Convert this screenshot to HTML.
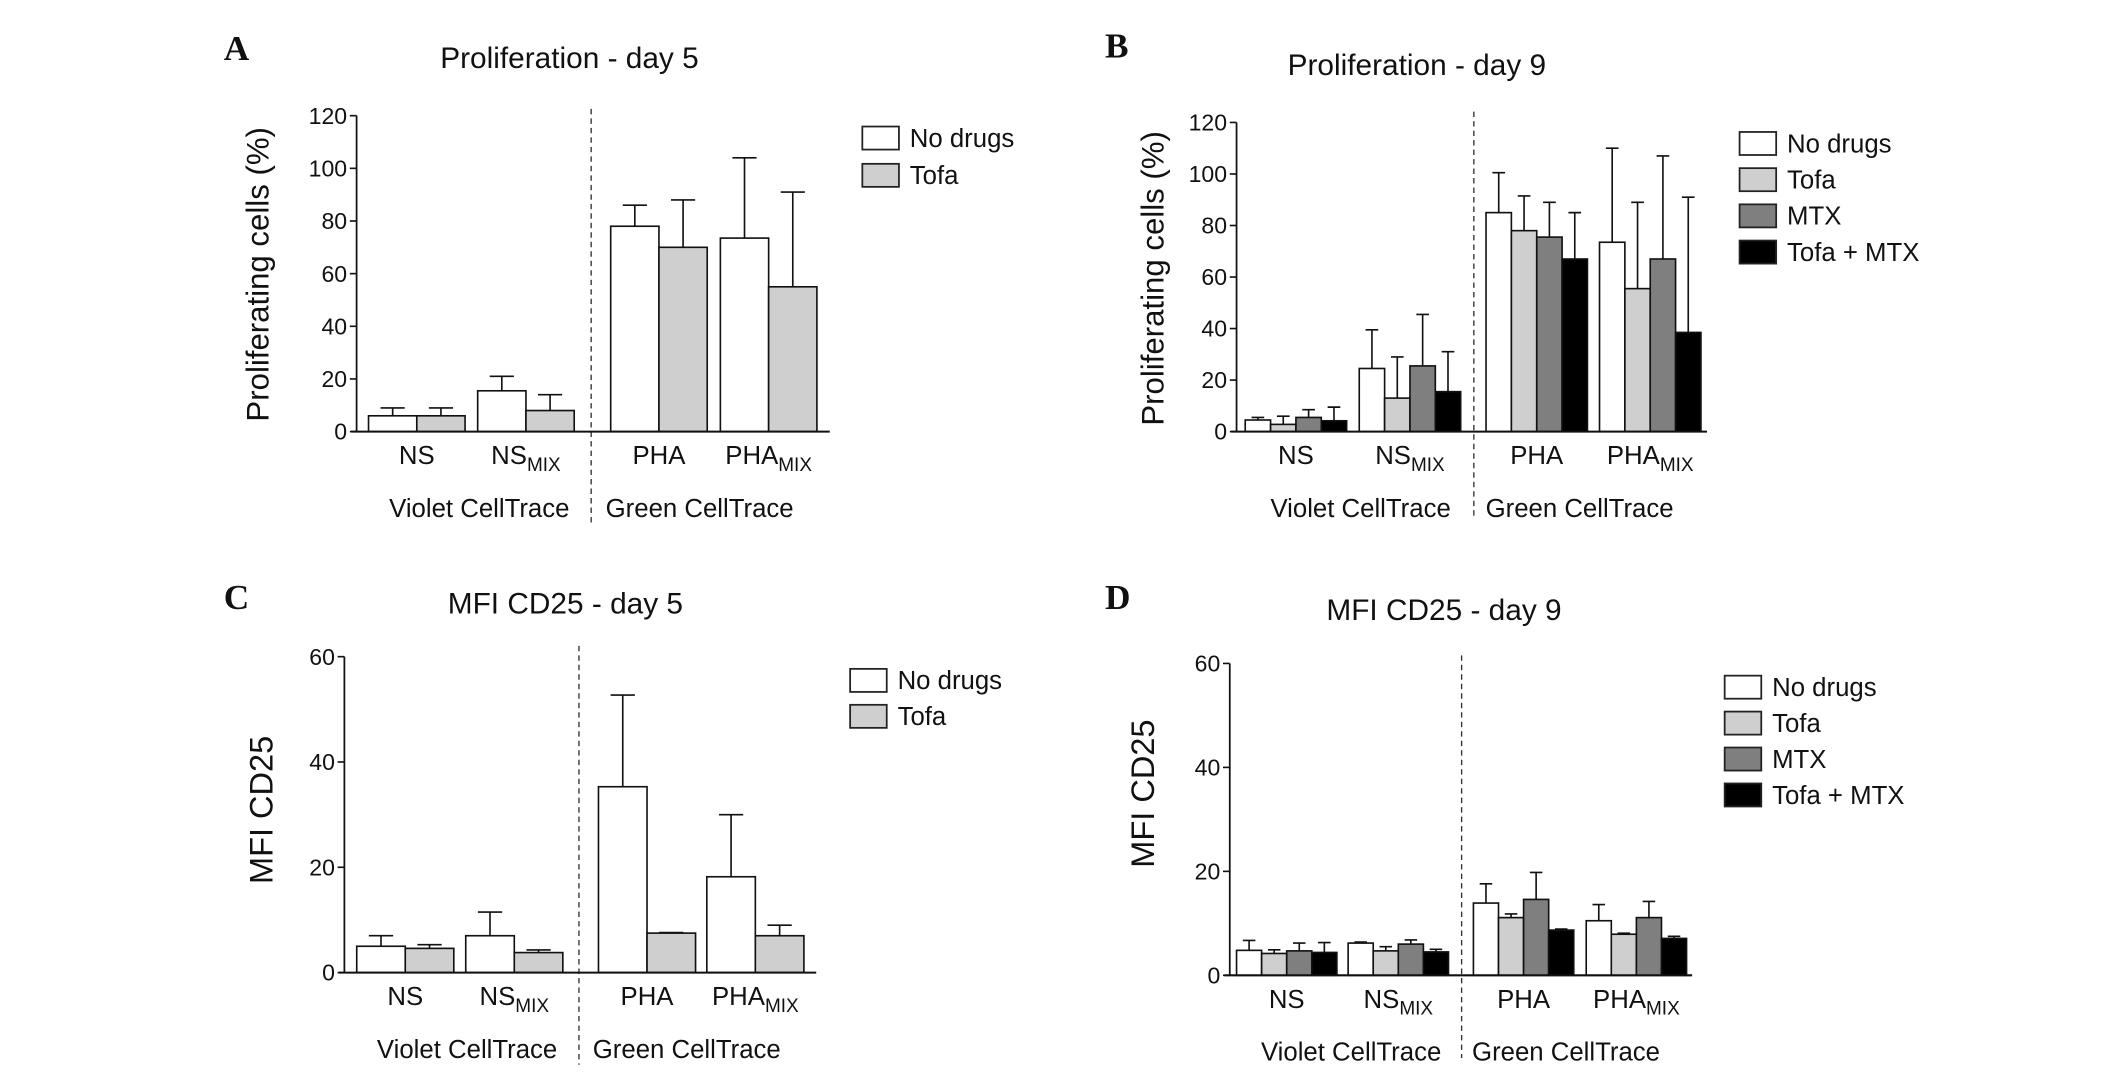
<!DOCTYPE html>
<html><head><meta charset="utf-8"><style>
html,body{margin:0;padding:0;background:#fff;}
svg{display:block;}
text{font-family:"Liberation Sans Narrow","Liberation Sans",sans-serif;fill:#111;}
.yt{font-family:"Liberation Sans",sans-serif;}
.pl{font-family:"Liberation Serif",serif;font-weight:bold;}
</style></head><body>
<svg id="fig" width="2126" height="1072" viewBox="0 0 1568 790" xmlns="http://www.w3.org/2000/svg"></svg>
<script>
const categories = ["NS","NS_MIX","PHA","PHA_MIX"];
const seriesA = ["No drugs","Tofa"];
const seriesB = ["No drugs","Tofa","MTX","Tofa + MTX"];
const fills = ["#ffffff","#cfcfcf","#7f7f7f","#000000"];
// Panel A
const aMean = [[6,15.5,78,73.5],[6,8,70,55]];
const aErr  = [[9,21,86,104],[9,14,88,91]];
const aTicks = [0,20,40,60,80,100,120];
// Panel B
const bMean = [[4.5,24.5,85,73.5],[2.8,13,78,55.5],[5.5,25.5,75.5,67],[4.2,15.5,67,38.5]];
const bErr  = [[5.5,39.5,100.5,110],[6,29,91.5,89],[8.5,45.5,89,107],[9.5,31,85,91]];
const bTicks = [0,20,40,60,80,100,120];
// Panel C
const cMean = [[5,7,35.3,18.2],[4.6,3.8,7.5,7]];
const cErr  = [[7,11.5,52.7,30],[5.3,4.3,7.6,9]];
const cTicks = [0,20,40,60];
// Panel D
const dMean = [[4.8,6.2,13.9,10.5],[4.2,4.7,11.1,7.9],[4.7,6.0,14.6,11.1],[4.4,4.5,8.7,7.1]];
const dErr  = [[6.7,6.4,17.6,13.6],[4.9,5.5,11.8,8.1],[6.2,6.8,19.8,14.2],[6.3,5.0,8.9,7.5]];
const dTicks = [0,20,40,60];

const NS="http://www.w3.org/2000/svg";
const svg=document.getElementById('fig');
function el(tag,attrs,parent,txt){const e=document.createElementNS(NS,tag);for(const k in attrs)e.setAttribute(k,attrs[k]);if(txt!==undefined)e.textContent=txt;(parent||svg).appendChild(e);return e;}

function panel(cfg){
  const g=el('g',{});
  
  
  const yMax=cfg.ticks[cfg.ticks.length-1];
  const yS=v=>cfg.y0-(v/yMax)*(cfg.y0-cfg.yTop);
  const lbl=el('text',{x:cfg.lx,y:cfg.ly,'font-size':26,class:'pl'},g,cfg.letter);
  
  
  const t=el('text',{x:cfg.tx,y:cfg.ty,'font-size':22,'text-anchor':'middle'},g,cfg.title);
  
  
  const ya=el('line',{x1:cfg.ax,y1:cfg.yTop,x2:cfg.ax,y2:cfg.y0,stroke:'#111','stroke-width':1.3},g);
  
  
  cfg.ticks.forEach(v=>{
    el('line',{x1:cfg.ax-5,y1:yS(v),x2:cfg.ax,y2:yS(v),stroke:'#111','stroke-width':1.2},g);
    const tl=el('text',{x:cfg.ax-7,y:yS(v)+6,'font-size':17,'text-anchor':'end'},g,String(v));
    
    
  });
  const yt=el('text',{x:0,y:0,'font-size':cfg.ytSize,'text-anchor':'middle',class:'yt',transform:`translate(${cfg.ytx},${cfg.yty}) rotate(-90)`},g,cfg.ytitle);
  
  
  const dv=el('line',{x1:cfg.dx,y1:cfg.dTop,x2:cfg.dx,y2:cfg.dBot,stroke:'#333','stroke-width':1,'stroke-dasharray':'4,3'},g);
  
  
  const n=cfg.mean.length;
  cfg.starts.forEach((sx,ci)=>{
    for(let s=0;s<n;s++){
      const x=sx+s*cfg.bw, v=cfg.mean[s][ci], e=cfg.err[s][ci];
      const r=el('rect',{x:x,y:yS(v),width:cfg.bw,height:cfg.y0-yS(v),fill:fills[s],stroke:'#111','stroke-width':1.2},g);
      
      
      const cx=x+cfg.bw/2;
      const eb=el('path',{d:`M${cx},${yS(v)}V${yS(e)}M${cx-cfg.bw*0.25},${yS(e)}H${cx+cfg.bw*0.25}`,stroke:'#111','stroke-width':1.2,fill:'none'},g);
      
      
    }
    const c=sx+n*cfg.bw/2;
    const parts=categories[ci].split('_');
    const xl=el('text',{x:c,y:cfg.y0+24,'font-size':19,'text-anchor':'middle'},g);
    
    
    el('tspan',{},xl,parts[0]);
    if(parts[1]) el('tspan',{'font-size':14,dy:5},xl,parts[1]);
  });
  const xa=el('line',{x1:cfg.ax-4,y1:cfg.y0,x2:cfg.axEnd,y2:cfg.y0,stroke:'#111','stroke-width':1.5},g);
  
  
  const g1=el('text',{x:(cfg.ax+cfg.dx)/2+4,y:cfg.y0+63,'font-size':19,'text-anchor':'middle'},g,'Violet CellTrace');
  
  
  const g2=el('text',{x:(cfg.dx+cfg.axEnd)/2-8,y:cfg.y0+63,'font-size':19,'text-anchor':'middle'},g,'Green CellTrace');
  
  
  cfg.series.forEach((s,i)=>{
    const yy=cfg.legY+i*cfg.legDy;
    const lg=el('g',{},g);
    
    
    el('rect',{x:cfg.legX,y:yy-8,width:27,height:17,fill:fills[i],stroke:'#222','stroke-width':1.3},lg);
    el('text',{x:cfg.legX+35,y:yy+7,'font-size':19},lg,s);
  });
}

panel({id:'panel-a',letter:'A',lx:165,ly:44,title:'Proliferation - day 5',tx:420,ty:50,ticks:aTicks,ax:263,yTop:85,y0:318,axEnd:612,
  dx:436,dTop:80,dBot:385,starts:[271.8,352.3,450.4,531.3],bw:35.6,mean:aMean,err:aErr,series:seriesA,
  ytitle:'Proliferating cells (%)',ytSize:23,ytx:198,yty:202,legX:636,legY:101,legDy:27.5});
panel({id:'panel-b',letter:'B',lx:815,ly:42,title:'Proliferation  - day 9',tx:1045,ty:55,ticks:bTicks,ax:912,yTop:90,y0:318,axEnd:1259,
  dx:1087,dTop:82,dBot:382,starts:[918.4,1002.5,1096,1179.7],bw:18.7,mean:bMean,err:bErr,series:seriesB,
  ytitle:'Proliferating cells (%)',ytSize:23,ytx:858,yty:205,legX:1283,legY:105,legDy:26.7});
panel({id:'panel-c',letter:'C',lx:165,ly:449,title:'MFI CD25 - day 5',tx:417,ty:452,ticks:cTicks,ax:254,yTop:484,y0:717,axEnd:602,
  dx:427,dTop:476,dBot:785,starts:[263.1,343.5,441.4,521.3],bw:35.8,mean:cMean,err:cErr,series:seriesA,
  ytitle:'MFI CD25',ytSize:24,ytx:201,yty:597,legX:627,legY:501,legDy:26.5});
panel({id:'panel-d',letter:'D',lx:815,ly:449,title:'MFI CD25 - day 9',tx:1065,ty:457,ticks:dTicks,ax:907,yTop:489,y0:719,axEnd:1248,
  dx:1078,dTop:483,dBot:780,starts:[912,994.3,1086.7,1169.9],bw:18.5,mean:dMean,err:dErr,series:seriesB,
  ytitle:'MFI CD25',ytSize:24,ytx:851,yty:585,legX:1272,legY:506,legDy:26.5});
</script>
</body></html>
